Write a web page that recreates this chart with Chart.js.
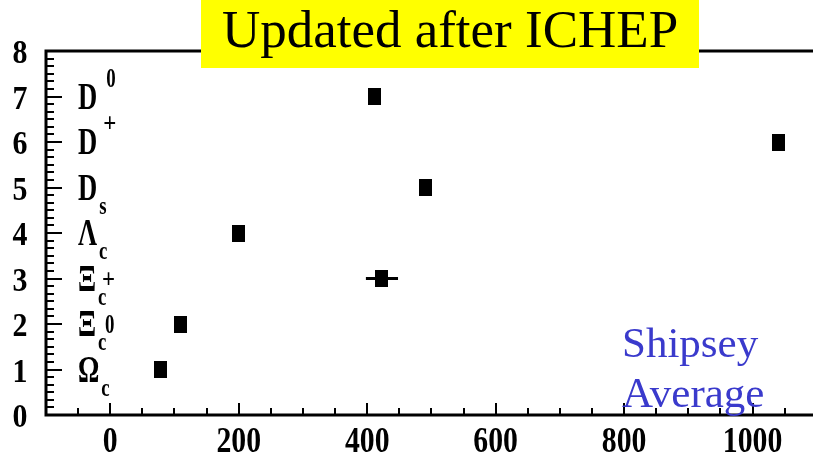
<!DOCTYPE html>
<html><head><meta charset="utf-8">
<script src="https://cdn.jsdelivr.net/npm/chart.js@4/dist/chart.umd.min.js"></script>
<style>html,body{margin:0;padding:0;background:#fff;overflow:hidden}</style>
</head><body>
<canvas id="c" width="813" height="459"></canvas>
<script>
// ---- data ----
const particleSymbols = ['D', 'D', 'D', 'Λ', 'Ξ', 'Ξ', 'Ω'];
const particleSubs    = ['',  '',  's', 'c', 'c', 'c', 'c'];
const particleSups    = ['0', '+', '',  '',  '+', '0', ''];
const rowIndex        = [7, 6, 5, 4, 3, 2, 1];
const lifetimes       = [412, 1040, 491, 200, 423, 110, 79];   // fs
const lifetimeErrors  = [0, 0, 0, 0, 25, 0, 0];
const xTickValues = [0, 200, 400, 600, 800, 1000];
const yTickValues = [0, 1, 2, 3, 4, 5, 6, 7, 8];
const titleText = 'Updated after ICHEP';
const noteLines = ['Shipsey', 'Average'];

// ---- marker ----
const marker = document.createElement('canvas');
marker.width = 13; marker.height = 17;
(function(){ const m = marker.getContext('2d'); m.fillStyle = '#000'; m.fillRect(0,0,13,17); })();

const points = lifetimes.map((v,i)=>({x:v, y:rowIndex[i]}));
const errSets = [];
lifetimes.forEach((v,i)=>{
  if (lifetimeErrors[i] > 0) {
    errSets.push({type:'line', data:[{x:v-lifetimeErrors[i], y:rowIndex[i]},{x:v+lifetimeErrors[i], y:rowIndex[i]}],
      borderColor:'#000', borderWidth:3, pointRadius:0, showLine:true, order:2});
  }
});

const SERIF = '"Liberation Serif","Times New Roman",serif';

function drawScaled(ctx, text, x, y, font, sx, align) {
  ctx.save();
  ctx.font = font;
  ctx.translate(x, y);
  ctx.scale(sx, 1);
  ctx.textAlign = align || 'left';
  ctx.textBaseline = 'alphabetic';
  ctx.fillText(text, 0, 0);
  const w = ctx.measureText(text).width * sx;
  ctx.restore();
  return w;
}

const decor = {
  id: 'decor',
  beforeDraw(chart) {
    const c = chart.ctx;
    c.save(); c.fillStyle = '#fff'; c.fillRect(0,0,chart.width,chart.height); c.restore();
  },
  afterDraw(chart) {
    const c = chart.ctx, a = chart.chartArea;
    const xs = chart.scales.x, ys = chart.scales.y;
    c.save();
    c.strokeStyle = '#000'; c.fillStyle = '#000';
    // frame lines
    c.lineWidth = 3;
    c.beginPath();
    c.moveTo(a.left, a.top); c.lineTo(chart.width, a.top);
    c.moveTo(a.left, a.top - 1.5); c.lineTo(a.left, a.bottom + 1.5);
    c.moveTo(a.left, a.bottom); c.lineTo(chart.width, a.bottom);
    c.stroke();
    // x ticks
    c.lineWidth = 2;
    c.beginPath();
    for (let v = xs.min; v <= xs.max; v += 50) {
      if (v <= xs.min) continue;
      const px = Math.round(xs.getPixelForValue(v));
      const len = (v % 200 === 0) ? 12 : 7;
      c.moveTo(px, a.bottom); c.lineTo(px, a.bottom - len);
    }
    c.stroke();
    // y ticks
    c.beginPath();
    for (let k = 1; k < 8*6; k++) {
      const py = Math.round(ys.getPixelForValue(k/6));
      const len = (k % 6 === 0) ? 16 : 8;
      c.moveTo(a.left, py); c.lineTo(a.left + len, py);
    }
    c.stroke();
    // tick labels
    const tickFont = 'bold 35px ' + SERIF;
    xs.ticks.forEach(t => {
      drawScaled(c, String(t.value), xs.getPixelForValue(t.value), a.bottom + 37, tickFont, 0.85, 'center');
    });
    ys.ticks.forEach(t => {
      drawScaled(c, String(t.value), 20, ys.getPixelForValue(t.value) + 12, 'bold 34px ' + SERIF, 0.88, 'center');
    });
    // particle labels
    const mainFont = 'bold 37px ' + SERIF, smallFont = 'bold 25px ' + SERIF, supFont = 'bold 27px ' + SERIF;
    particleSymbols.forEach((s, i) => {
      const py = ys.getPixelForValue(rowIndex[i]);
      const x0 = a.left + 32;
      const w = drawScaled(c, s, x0, py + 12, mainFont, 0.72, 'left');
      const sub = particleSubs[i], sup = particleSups[i];
      if (sub) drawScaled(c, sub, x0 + w + 2, py + 26, smallFont, 0.75, 'left');
      if (sup) drawScaled(c, sup, x0 + w + (sup === '+' ? 6 : 9), sub ? py + 9 : py - 10, supFont, sup === '+' ? 0.85 : 0.7, 'left');
    });
    // note text
    c.fillStyle = '#3a3acc';
    c.font = '43px ' + SERIF;
    c.textAlign = 'left'; c.textBaseline = 'alphabetic';
    c.fillText(noteLines[0], 622, 357);
    c.fillText(noteLines[1], 622, 407);
    // title box
    c.fillStyle = '#ffff00';
    c.fillRect(201, 0, 498, 68);
    c.fillStyle = '#000';
    c.font = '53px ' + SERIF;
    c.textAlign = 'center';
    c.fillText(titleText, 450, 47);
    c.restore();
  }
};

new Chart(document.getElementById('c').getContext('2d'), {
  type: 'scatter',
  data: {
    datasets: [
      {data: points, pointStyle: marker, pointRadius: 8, hoverRadius: 8, backgroundColor:'#000', borderColor:'#000', order:1},
      ...errSets
    ]
  },
  options: {
    responsive: false,
    animation: false,
    devicePixelRatio: 1,
    layout: {autoPadding: false, padding: {top: 51, left: 0, right: 0, bottom: 0}},
    plugins: {legend: {display: false}, tooltip: {enabled: false}, title: {display: false}},
    scales: {
      x: {
        type: 'linear', min: -100, max: 1094,
        grid: {display: false}, border: {display: false},
        ticks: {display: false},
        afterBuildTicks: s => { s.ticks = xTickValues.map(v => ({value: v})); },
        afterFit: s => { s.height = 44; }
      },
      y: {
        type: 'linear', min: 0, max: 8,
        grid: {display: false}, border: {display: false},
        ticks: {display: false},
        afterBuildTicks: s => { s.ticks = yTickValues.map(v => ({value: v})); },
        afterFit: s => { s.width = 46; }
      }
    }
  },
  plugins: [decor]
});
</script>
</body></html>
